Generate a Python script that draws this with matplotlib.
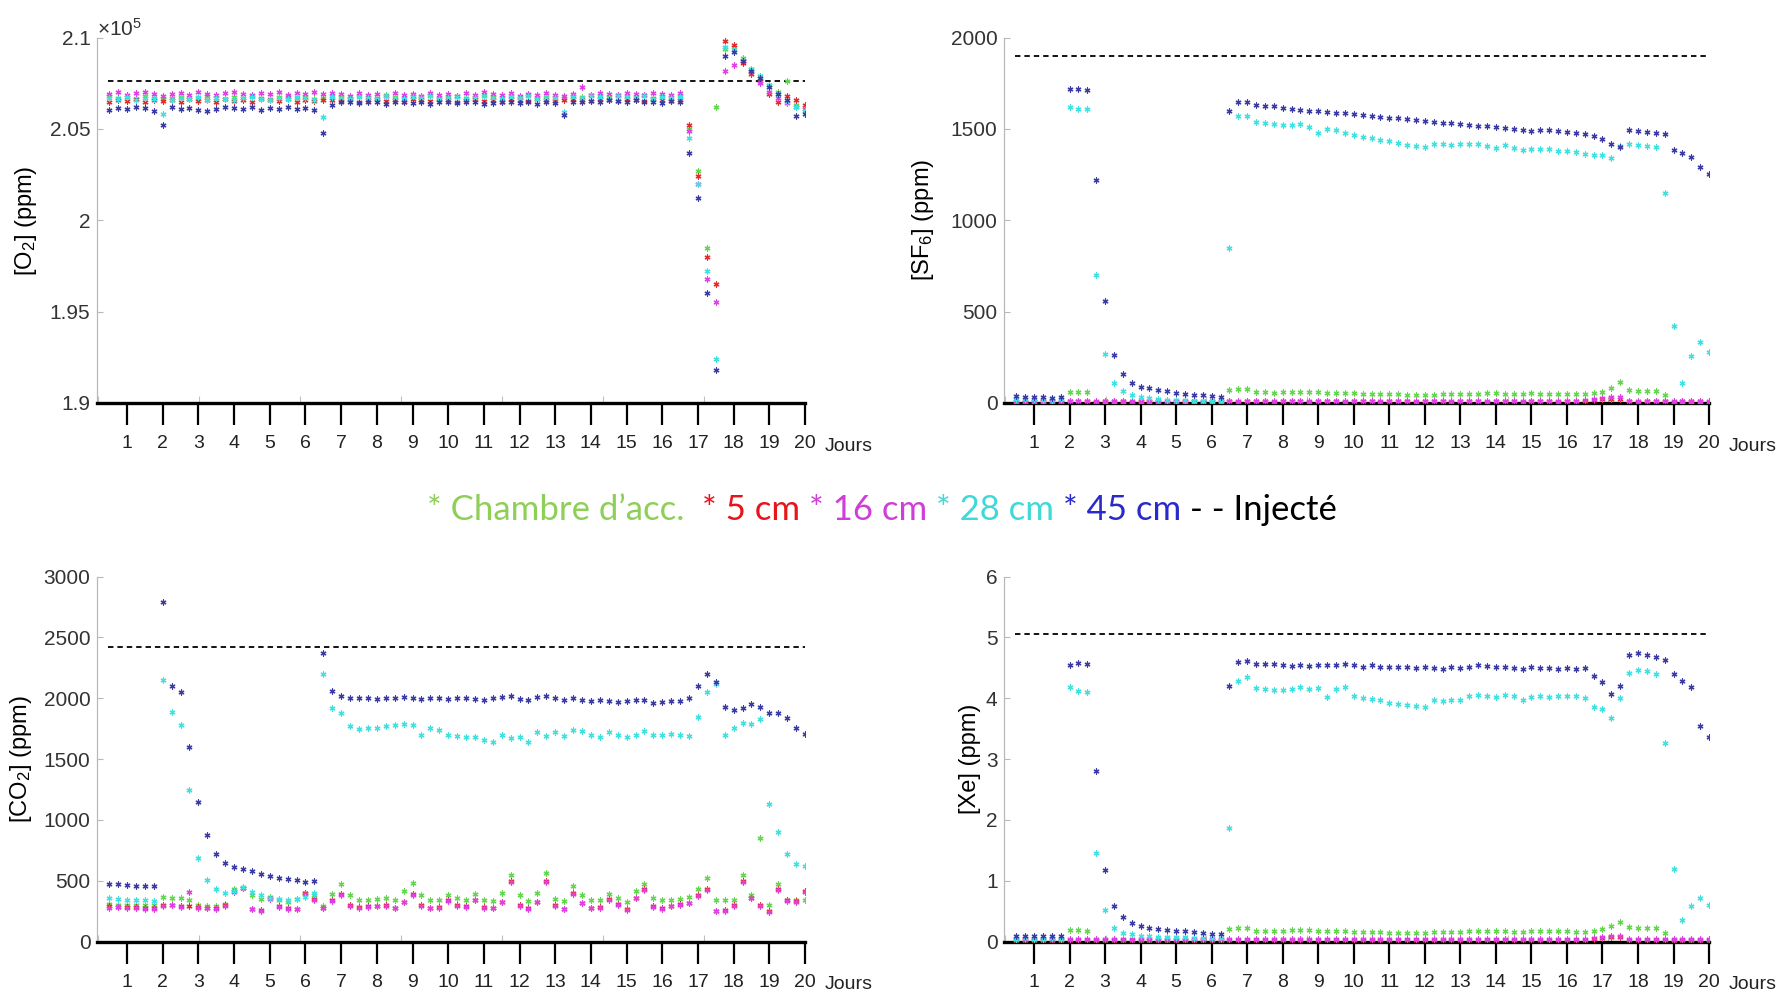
import numpy as np
import matplotlib
matplotlib.use('Agg')
import matplotlib.pyplot as plt
from matplotlib.ticker import FuncFormatter

# ------------------------------------------------------------------
# DATA (one value every 6 h)
# ------------------------------------------------------------------
days = np.arange(0.5, 20.01, 0.25)

series_names = ['Chambre d\u2019acc.', '5 cm', '16 cm', '28 cm', '45 cm']
injected_name = 'Inject\u00e9'

# O2 (ppm)
o2_chambre = [206800, 206700, 206750, 206650, 206800, 206700,
              206650,
              206700, 206750, 206650, 206700, 206800, 206700, 206650, 206750, 206700, 206800, 206700, 206650,
              206750, 206800, 206700, 206750, 206650,
              206700,
              206800, 206750, 206700, 206800, 206750, 206700, 206850, 206750, 206700, 206800, 206750, 206850,
              206700, 206750, 206800, 206700, 206750, 206850, 206750, 206700, 206800, 206750, 206850, 206700,
              206750,
              206750, 206700,
              206800, 206750, 206850, 206800, 206750, 206850, 206800, 206750, 206850, 206700, 206800, 206750,
              206800,
              205000, 202700, 198500, 206200, 209400, 209500, 208900, 208300, 207900, 207400, 207000, 207600,
              206300, 206100]
o2_5cm = [206500, 206600, 206550, 206650, 206500, 206600,
          206550,
          206600, 206500, 206650, 206550, 206600, 206500, 206650, 206550, 206600, 206500, 206650, 206600,
          206550, 206650, 206500, 206600, 206550,
          206600,
          206600, 206550, 206650, 206500, 206600, 206650, 206550, 206600, 206500, 206650, 206600, 206550,
          206650, 206600, 206500, 206600, 206650, 206550, 206600, 206500, 206650, 206600, 206550, 206650,
          206600,
          206550, 206600,
          206650, 206600, 206550, 206650, 206600, 206550, 206650, 206600, 206550, 206650, 206600, 206550,
          206600,
          205200, 202400, 198000, 196500, 209800, 209600, 208600, 208000, 207600, 206900, 206500, 206800,
          206600, 206300]
o2_16cm = [206900, 207000, 206850, 206950, 207000, 206900,
           206800,
           206900, 206950, 206850, 207000, 206900, 206850, 206950, 207000, 206900, 206850, 206950, 206900,
           207000, 206850, 206950, 206900, 207050,
           206900,
           206950, 206900, 206800, 206950, 206850, 206900, 206800, 206950, 206850, 206900, 206800, 206950,
           206850, 206900, 206800, 206950, 206850, 207000, 206900, 206850, 206950, 206800, 206900, 206850,
           206950,
           206850, 206800,
           206900, 207300, 206850, 206950, 206900, 206850, 206950, 206900, 206850, 206950, 206900, 206850,
           206950,
           204900, 202000, 196800, 195500, 208200, 208500, 208700, 208100, 207500, 207000, 206700, 206400,
           206200, 206100]
o2_28cm = [206700, 206650, 206750, 206600, 206700, 206650,
           205800,
           206600, 206700, 206650, 206750, 206600, 206700, 206650, 206600, 206700, 206750, 206650, 206600,
           206700, 206650, 206750, 206700, 206600,
           205650,
           206750, 206700, 206650, 206750, 206700, 206650, 206800, 206700, 206650, 206750, 206700, 206800,
           206650, 206700, 206750, 206650, 206700, 206800, 206700, 206650, 206750, 206700, 206800, 206650,
           206700,
           206700, 205950,
           206750, 206700, 206800, 206750, 206700, 206800, 206750, 206700, 206800, 206650, 206750, 206700,
           206750,
           204500, 202000, 197200, 192400, 209500, 209300, 208800, 208300, 207900, 207400, 206900, 206500,
           206200, 206000]
o2_45cm = [206050, 206150, 206100, 206200, 206150, 206000,
           205200,
           206200, 206100, 206150, 206050, 206000, 206100, 206200, 206150, 206100, 206200, 206050, 206150,
           206100, 206200, 206100, 206150, 206050,
           204800,
           206300, 206500, 206450, 206400, 206500, 206450, 206350, 206450, 206500, 206400, 206450, 206350,
           206500, 206450, 206400, 206500, 206450, 206350, 206400, 206500, 206450, 206400, 206500, 206350,
           206450,
           206400, 205750,
           206500, 206450, 206550, 206500, 206600, 206550, 206500, 206600, 206450, 206500, 206400, 206550,
           206500,
           203700, 201200, 196000, 191800, 209000, 209200, 208700, 208200, 207800, 207300, 206900, 206600,
           205700, 205800]
o2_injected = 207630

# SF6 (ppm)
sf6_chambre = [5, 5, 5, 5, 5, 5,
               62, 60, 58,
               5, 5, 5, 5, 5, 5, 5, 5, 5, 5, 5, 5, 5, 5, 5,
               72, 78, 78, 60, 58, 57, 60, 60, 62, 60, 58, 55, 55, 54, 52, 50, 50, 50, 48, 47, 46, 45, 45,
               46, 48, 48, 50, 50, 50, 52, 52, 50, 50, 50, 52, 50, 50, 50, 50, 50, 48, 52, 62, 80, 115, 70,
               68, 66, 66, 45, 5, 5, 5, 5, 5]
sf6_5cm = [8, 7, 8, 9, 8, 7, 8, 9, 8, 7, 8, 9, 8, 7, 8, 9, 8, 7, 8, 9, 8, 7, 8, 9, 8, 7, 8, 9, 8, 7,
           8, 9, 8, 7, 8, 9, 8, 7, 8, 9, 8, 7, 8, 9, 8, 7, 8, 9, 8, 7, 8, 9, 8, 7, 8, 9, 8, 7, 8, 9,
           8, 7, 8, 9, 10, 15, 20, 22, 24, 8, 7, 8, 9, 8, 7, 8, 9, 8, 7]
sf6_16cm = [10, 11, 10, 9, 10, 11, 10, 9, 10, 11, 10, 9, 10, 11, 10, 9, 10, 11, 10, 9, 10, 11, 10, 9,
            10, 11, 10, 9, 10, 11, 10, 9, 10, 11, 10, 9, 10, 11, 10, 9, 10, 11, 10, 9, 10, 11, 10, 9,
            10, 11, 10, 9, 10, 11, 10, 9, 10, 11, 10, 9, 10, 11, 10, 9, 14, 22, 28, 32, 35, 10, 11, 10,
            9, 10, 11, 10, 9, 10, 11]
sf6_28cm = [22, 20, 20, 18, 18, 20,
            1620, 1612, 1608, 700, 270, 110, 65, 45, 32, 26, 22, 18, 16, 14, 13, 12, 11, 10,
            850, 1572, 1570, 1540, 1530, 1528, 1522, 1520, 1525, 1512, 1480, 1500, 1492, 1478, 1465,
            1455, 1448, 1438, 1432, 1425, 1412, 1405, 1400, 1420, 1418, 1412, 1418, 1420, 1415, 1405,
            1395, 1410, 1398, 1385, 1390, 1392, 1388, 1382, 1380, 1372, 1365, 1355, 1360, 1342, 1405,
            1420, 1410, 1405, 1400, 1150, 420, 110, 255, 335, 280]
sf6_45cm = [38, 35, 33, 30, 28, 30,
            1720, 1718, 1712, 1220, 560, 260, 160, 110, 90, 80, 72, 65, 57, 50, 46, 42, 37, 33,
            1600, 1650, 1648, 1630, 1625, 1628, 1615, 1612, 1605, 1600, 1598, 1595, 1588, 1585, 1580,
            1575, 1570, 1565, 1562, 1558, 1552, 1548, 1542, 1540, 1535, 1532, 1528, 1522, 1518, 1515,
            1512, 1508, 1502, 1495, 1488, 1495, 1493, 1488, 1482, 1480, 1472, 1462, 1445, 1420, 1402,
            1492, 1490, 1485, 1478, 1470, 1385, 1370, 1348, 1290, 1255]
sf6_injected = 1900

# CO2 (ppm)
co2_chambre = [310, 305, 305, 300, 300, 305,
               365, 360, 355, 340, 300, 295, 290, 310, 430, 440, 380, 350, 370, 340, 330, 350, 400, 380,
               290, 390, 470, 380, 340, 340, 350, 360, 340, 420, 480, 380, 340, 340, 380, 360, 345, 395,
               340, 335, 400, 550, 380, 335, 400, 565, 350, 335, 460, 380, 340, 340, 395, 360, 330, 420,
               470, 360, 340, 345, 350, 370, 430, 520, 345, 340, 340, 550, 380, 850, 300, 470, 340, 345,
               340]
co2_5cm = [290, 288, 285, 282, 280, 275,
           300, 302, 290, 290, 285, 280, 275, 300, 420, 440, 270, 260, 360, 290, 275, 270, 400, 350,
           280, 340, 390, 300, 285, 290, 295, 300, 280, 330, 390, 300, 280, 285, 340, 300, 290, 345,
           285, 280, 330, 500, 300, 275, 330, 495, 300, 270, 400, 320, 280, 285, 350, 310, 265, 360,
           430, 290, 275, 295, 310, 320, 380, 430, 255, 260, 300, 495, 360, 300, 250, 430, 340, 335,
           420]
co2_16cm = [280, 282, 278, 275, 272, 270,
            295, 298, 285, 410, 278, 275, 270, 295, 410, 445, 265, 255, 350, 285, 270, 265, 395, 345,
            275, 335, 385, 295, 280, 285, 290, 295, 275, 325, 385, 295, 275, 280, 335, 295, 285, 340,
            280, 275, 325, 490, 295, 270, 325, 490, 295, 265, 395, 315, 275, 280, 345, 305, 260, 355,
            425, 285, 270, 290, 305, 315, 375, 425, 250, 255, 295, 490, 355, 295, 245, 425, 335, 330,
            410]
co2_28cm = [355, 352, 345, 340, 340, 338,
            2150, 1890, 1780, 1250, 690, 510, 430, 400, 420, 450, 410, 380, 360, 350, 345, 350, 370, 400,
            2200, 1920, 1880, 1770, 1750, 1755, 1760, 1770, 1780, 1790, 1780, 1700, 1760, 1740, 1700,
            1690, 1685, 1680, 1660, 1640, 1700, 1670, 1680, 1640, 1720, 1690, 1720, 1690, 1740, 1735,
            1700, 1680, 1720, 1700, 1680, 1700, 1730, 1700, 1700, 1710, 1700, 1690, 1850, 2050, 2120,
            1700, 1760, 1800, 1790, 1830, 1130, 900, 720, 640, 620]
co2_45cm = [475, 472, 468, 460, 455, 460,
            2790, 2100, 2050, 1600, 1150, 880, 720, 650, 610, 595, 580, 560, 540, 525, 515, 505, 490, 495,
            2370, 2060, 2020, 2000, 2000, 2000, 1995, 2000, 2000, 2010, 2000, 1995, 2000, 2000, 1995,
            2000, 2000, 1995, 1990, 2000, 2010, 2020, 1995, 1990, 2010, 2020, 2000, 1990, 2000, 1990,
            1975, 1990, 1980, 1970, 1975, 1990, 1985, 1965, 1970, 1975, 1975, 2000, 2100, 2200, 2130,
            1930, 1900, 1920, 1950, 1930, 1880, 1880, 1840, 1760, 1710]
co2_injected = 2420

# Xe (ppm)
xe_chambre = [0.03, 0.03, 0.03, 0.03, 0.03, 0.03,
              0.19, 0.19, 0.18,
              0.03, 0.03, 0.03, 0.03, 0.03, 0.03, 0.03, 0.03, 0.03, 0.03, 0.03, 0.03, 0.03, 0.03, 0.03,
              0.20, 0.23, 0.23,
              0.18, 0.18, 0.18, 0.18, 0.19, 0.19, 0.19, 0.18, 0.17, 0.18, 0.17, 0.16, 0.16, 0.16, 0.16,
              0.15, 0.15, 0.15, 0.15, 0.15, 0.16, 0.16, 0.16, 0.16, 0.17, 0.17, 0.17, 0.17, 0.17, 0.16,
              0.16, 0.17, 0.17, 0.17, 0.17, 0.17, 0.16, 0.16,
              0.18, 0.21, 0.26, 0.33, 0.24, 0.23, 0.23, 0.23, 0.15, 0.03, 0.03, 0.03, 0.03, 0.03]
xe_5cm = [0.03, 0.03, 0.03, 0.03, 0.03, 0.03, 0.03, 0.03, 0.03, 0.03, 0.03, 0.03, 0.03, 0.03, 0.03,
          0.03, 0.03, 0.03, 0.03, 0.03, 0.03, 0.03, 0.03, 0.03, 0.03, 0.03, 0.03, 0.03, 0.03, 0.03,
          0.03, 0.03, 0.03, 0.03, 0.03, 0.03, 0.03, 0.03, 0.03, 0.03, 0.03, 0.03, 0.03, 0.03, 0.03,
          0.03, 0.03, 0.03, 0.03, 0.03, 0.03, 0.03, 0.03, 0.03, 0.03, 0.03, 0.03, 0.03, 0.03, 0.03,
          0.03, 0.03, 0.03, 0.03, 0.03, 0.05, 0.06, 0.07, 0.08, 0.03, 0.03, 0.03, 0.03, 0.03, 0.03,
          0.03, 0.03, 0.03, 0.03]
xe_16cm = [0.04, 0.04, 0.04, 0.04, 0.04, 0.04, 0.04, 0.04, 0.04, 0.04, 0.04, 0.04, 0.04, 0.04, 0.04,
           0.04, 0.04, 0.04, 0.04, 0.04, 0.04, 0.04, 0.04, 0.04, 0.04, 0.04, 0.04, 0.04, 0.04, 0.04,
           0.04, 0.04, 0.04, 0.04, 0.04, 0.04, 0.04, 0.04, 0.04, 0.04, 0.04, 0.04, 0.04, 0.04, 0.04,
           0.04, 0.04, 0.04, 0.04, 0.04, 0.04, 0.04, 0.04, 0.04, 0.04, 0.04, 0.04, 0.04, 0.04, 0.04,
           0.04, 0.04, 0.04, 0.04, 0.04, 0.06, 0.08, 0.09, 0.10, 0.04, 0.04, 0.04, 0.04, 0.04, 0.04,
           0.04, 0.04, 0.04, 0.04]
xe_28cm = [0.05, 0.06, 0.05, 0.05, 0.06, 0.05,
           4.18, 4.12, 4.10, 1.45, 0.52, 0.22, 0.15, 0.12, 0.10, 0.09, 0.08, 0.08, 0.07, 0.07, 0.06, 0.06,
           0.06, 0.06,
           1.87, 4.28, 4.35, 4.17, 4.15, 4.13, 4.13, 4.15, 4.18, 4.16, 4.17, 4.02, 4.15, 4.18, 4.03, 4.00,
           3.99, 3.97, 3.92, 3.90, 3.89, 3.88, 3.86, 3.98, 3.96, 3.98, 3.97, 4.03, 4.05, 4.03, 4.02, 4.06,
           4.03, 3.98, 4.02, 4.03, 4.02, 4.03, 4.04, 4.03, 4.00, 3.85, 3.82, 3.68, 4.00, 4.42, 4.47, 4.45,
           4.40, 3.26, 1.20, 0.36, 0.58, 0.72, 0.60]
xe_45cm = [0.10, 0.10, 0.09, 0.09, 0.10, 0.09,
           4.55, 4.58, 4.57, 2.80, 1.17, 0.58, 0.40, 0.30, 0.25, 0.22, 0.21, 0.19, 0.18, 0.17, 0.16, 0.15,
           0.13, 0.12,
           4.20, 4.60, 4.62, 4.57, 4.57, 4.56, 4.55, 4.53, 4.55, 4.53, 4.55, 4.54, 4.55, 4.56, 4.55, 4.52,
           4.54, 4.52, 4.52, 4.51, 4.52, 4.50, 4.51, 4.50, 4.49, 4.51, 4.50, 4.52, 4.55, 4.53, 4.52, 4.52,
           4.50, 4.49, 4.51, 4.50, 4.50, 4.49, 4.50, 4.49, 4.50, 4.36, 4.27, 4.07, 4.20, 4.72, 4.75, 4.72,
           4.68, 4.63, 4.40, 4.28, 4.18, 3.55, 3.37]
xe_injected = 5.05

# ------------------------------------------------------------------
# STYLE
# ------------------------------------------------------------------
data_colors = ['#62d64e', '#e42a2a', '#e03fe3', '#3fe0e0', '#3b3ba6']
legend_colors = ['#8ecf57', '#e8141c', '#cf3fd8', '#3fd9d9', '#2a2acb']
day_ticks = list(range(1, 21))
inner_ticks = [0.19, 3.02, 5.85, 8.68, 11.51, 14.34, 17.17]

plt.rcParams['font.family'] = ['Liberation Sans Narrow', 'Liberation Sans', 'DejaVu Sans']
plt.rcParams['mathtext.default'] = 'regular'


def draw_panel(ax, series, injected, ylim, yticks, ylabel, label_x, fmt=None):
    for vals, col in zip(series, data_colors):
        ax.scatter(days, vals, marker=(6, 2, 0), s=13, linewidths=0.9, color=col, zorder=3)
    ax.axhline(injected, xmin=0.015, xmax=1.0, color='k', ls=(0, (3, 2.2)), lw=1.3, zorder=2)
    ax.set_xlim(0.17, 20.0)
    ax.set_ylim(*ylim)
    ax.set_yticks(yticks)
    if fmt is not None:
        ax.yaxis.set_major_formatter(fmt)
    ax.set_xticks(day_ticks)
    ax.set_xticks(inner_ticks, minor=True)
    for s in ['top', 'right']:
        ax.spines[s].set_visible(False)
    ax.spines['left'].set_color('#b8b8b8')
    ax.spines['left'].set_linewidth(0.9)
    ax.spines['bottom'].set_color('black')
    ax.spines['bottom'].set_linewidth(2.4)
    ax.tick_params(axis='x', which='major', direction='out', length=16, width=1.6,
                   pad=7, labelsize=14, labelcolor='#222222')
    ax.tick_params(axis='x', which='minor', direction='in', length=5, width=0.8, color='#c0c0c0')
    ax.tick_params(axis='y', direction='in', length=4, width=0.8, color='#b8b8b8',
                   labelsize=15, labelcolor='#333333', pad=5)
    ax.set_ylabel(ylabel, fontsize=17, family=['Liberation Sans', 'DejaVu Sans'])
    ax.yaxis.set_label_coords(label_x, 0.5)
    ax.text(20.55, -0.118, 'Jours', transform=ax.get_xaxis_transform(),
            ha='left', va='center', fontsize=14, color='#222222')


fig = plt.figure(figsize=(17.81, 9.93), dpi=100)
ax_o2 = fig.add_axes([0.0547, 0.5942, 0.3973, 0.3679])
ax_sf6 = fig.add_axes([0.5640, 0.5942, 0.3956, 0.3679])
ax_co2 = fig.add_axes([0.0547, 0.0517, 0.3973, 0.3676])
ax_xe = fig.add_axes([0.5640, 0.0517, 0.3956, 0.3676])

o2_fmt = FuncFormatter(lambda v, p: '%g' % (v / 1e5))
draw_panel(ax_o2, [o2_chambre, o2_5cm, o2_16cm, o2_28cm, o2_45cm], o2_injected,
           (190000, 210000), [190000, 195000, 200000, 205000, 210000],
           r'[O$_2$] (ppm)', -0.083, o2_fmt)
ax_o2.text(0.0, 0.995, r'$\times10^{5}$', transform=ax_o2.transAxes, ha='left', va='bottom',
           fontsize=15, color='#333333')
draw_panel(ax_sf6, [sf6_chambre, sf6_5cm, sf6_16cm, sf6_28cm, sf6_45cm], sf6_injected,
           (0, 2000), [0, 500, 1000, 1500, 2000], r'[SF$_6$] (ppm)', -0.097)
draw_panel(ax_co2, [co2_chambre, co2_5cm, co2_16cm, co2_28cm, co2_45cm], co2_injected,
           (0, 3000), [0, 500, 1000, 1500, 2000, 2500, 3000], r'[CO$_2$] (ppm)', -0.090)
draw_panel(ax_xe, [xe_chambre, xe_5cm, xe_16cm, xe_28cm, xe_45cm], xe_injected,
           (0, 6), [0, 1, 2, 3, 4, 5, 6], '[Xe] (ppm)', -0.033)

# ------------------------------------------------------------------
# LEGEND as a line of coloured text in the middle
# ------------------------------------------------------------------
pieces = [('* ' + n, c) for n, c in zip(series_names, legend_colors)]
pieces.append(('- - ' + injected_name, 'black'))
gaps = [2, 1, 1, 1, 1]
leg_size = 25
leg_family = ['Lato', 'DejaVu Sans']
renderer = fig.canvas.get_renderer()
legend_texts = [fig.text(0, 0.486, s, color=c, fontsize=leg_size, va='center', ha='left',
                         family=leg_family) for s, c in pieces]
probe2 = fig.text(0, 0, 'a a', fontsize=leg_size, family=leg_family)
probe1 = fig.text(0, 0, 'a', fontsize=leg_size, family=leg_family)
w_space = probe2.get_window_extent(renderer).width - 2 * probe1.get_window_extent(renderer).width
probe1.remove()
probe2.remove()
widths = [t.get_window_extent(renderer).width for t in legend_texts]
total = sum(widths) + w_space * sum(gaps)
x = 0.495 * fig.bbox.width - total / 2
for i, t in enumerate(legend_texts):
    t.set_x(x / fig.bbox.width)
    x += widths[i] + (w_space * gaps[i] if i < len(gaps) else 0)

fig.savefig('out.png', dpi=100)
